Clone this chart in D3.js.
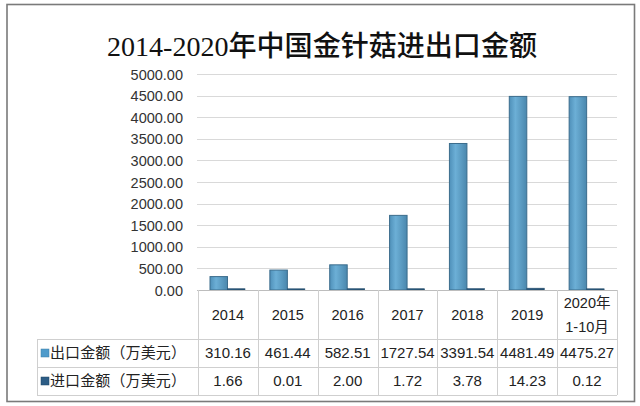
<!DOCTYPE html>
<html><head><meta charset="utf-8">
<script src="https://cdn.jsdelivr.net/npm/d3@7"></script>
<style>body{margin:0;background:#fff}svg{display:block}</style>
</head><body>
<script>
const categories = ["2014","2015","2016","2017","2018","2019","2020年\n1-10月"];
const exportValues = [310.16,461.44,582.51,1727.54,3391.54,4481.49,4475.27];
const importValues = [1.66,0.01,2.00,1.72,3.78,14.23,0.12];
const seriesNames = ["出口金额（万美元）","进口金额（万美元）"];
const yTicks = [0,500,1000,1500,2000,2500,3000,3500,4000,4500,5000];
const title = "2014-2020年中国金针菇进出口金额";

const W=640,H=406;
const svg=d3.select("body").append("svg").attr("width",W).attr("height",H);
const defs=svg.append("defs");
const g1=defs.append("linearGradient").attr("id","gExp").attr("x1","0").attr("x2","1").attr("y1","0").attr("y2","0");
g1.append("stop").attr("offset","0").attr("stop-color","#4f90b9");
g1.append("stop").attr("offset","0.35").attr("stop-color","#6cafd6");
g1.append("stop").attr("offset","1").attr("stop-color","#4a87ad");
const g2=defs.append("linearGradient").attr("id","gImp").attr("x1","0").attr("x2","1");
g2.append("stop").attr("offset","0").attr("stop-color","#2c5d83");
g2.append("stop").attr("offset","1").attr("stop-color","#214a6a");

svg.append("rect").attr("x",0).attr("y",0).attr("width",W).attr("height",H).attr("fill","#fff");
svg.append("rect").attr("x",7).attr("y",4.5).attr("width",627.5).attr("height",397).attr("fill","#fff").attr("stroke","#7a7a7a").attr("stroke-width",1.6);

svg.append("text").attr("x",322).attr("y",56).attr("text-anchor","middle")
  .attr("font-family","'Liberation Serif','Noto Sans CJK SC',serif").attr("font-size",28).attr("font-weight","500")
  .attr("fill","#111").attr("textLength",430).attr("lengthAdjust","spacingAndGlyphs").text(title);

const x=d3.scaleBand().domain(categories).range([198,617]);
const y=d3.scaleLinear().domain([0,5000]).range([290,74]);
const xs=d3.scaleBand().domain(["e","i"]).range([12,47]);

// gridlines
svg.append("g").selectAll("line").data(yTicks.filter(d=>d>0)).join("line")
  .attr("x1",197).attr("x2",617).attr("y1",d=>Math.round(y(d))+0.5).attr("y2",d=>Math.round(y(d))+0.5)
  .attr("stroke","#d9d9d9").attr("stroke-width",1);

// y axis labels
const yAxis=d3.axisLeft(y).tickValues(yTicks).tickFormat(d3.format(".2f")).tickSize(0).tickPadding(0);
const ya=svg.append("g").attr("transform","translate(183,0)").call(yAxis);
ya.select(".domain").remove();
ya.selectAll("text").attr("font-family","'Liberation Sans',Arial,sans-serif").attr("font-size",14.5).attr("fill","#333").attr("dy","0.35em");

// bars
const bars=svg.append("g");
bars.selectAll(".exp").data(categories).join("rect")
  .attr("x",(d)=>x(d)+xs("e")).attr("width",xs.bandwidth())
  .attr("y",(d,i)=>y(exportValues[i])).attr("height",(d,i)=>y(0)-y(exportValues[i]))
  .attr("fill","url(#gExp)").attr("stroke","#3b6c8c").attr("stroke-width",1);
bars.selectAll(".imp").data(categories).join("rect")
  .attr("x",(d)=>x(d)+xs("i")).attr("width",xs.bandwidth())
  .attr("y",(d,i)=>y(importValues[i])-1.2).attr("height",(d,i)=>y(0)-y(importValues[i])+1.2)
  .attr("fill","url(#gImp)").attr("stroke","#2a5373").attr("stroke-width",0.6);

// table
const tbl=svg.append("g");
const rowY=[290,339,367,395];
const lc="#cfcfcf";
tbl.append("line").attr("x1",197).attr("x2",617).attr("y1",290.5).attr("y2",290.5).attr("stroke","#bdbdbd");
[339,367,395].forEach(v=>tbl.append("line").attr("x1",37).attr("x2",617).attr("y1",v+0.5).attr("y2",v+0.5).attr("stroke",lc));
categories.forEach(c=>tbl.append("line").attr("x1",Math.round(x(c))+0.5).attr("x2",Math.round(x(c))+0.5).attr("y1",290).attr("y2",395).attr("stroke",lc));
tbl.append("line").attr("x1",617.5).attr("x2",617.5).attr("y1",290).attr("y2",395).attr("stroke",lc);
tbl.append("line").attr("x1",37.5).attr("x2",37.5).attr("y1",339).attr("y2",395).attr("stroke",lc);

const tf="'Liberation Sans',Arial,'Noto Sans CJK SC',sans-serif";
// header
categories.forEach(c=>{
  const lines=c.split("\n");
  const cx=x(c)+x.bandwidth()/2;
  if(lines.length===1){
    tbl.append("text").attr("x",cx).attr("y",315).attr("dy","0.35em").attr("text-anchor","middle")
      .attr("font-family",tf).attr("font-size",14.5).attr("fill","#222").text(lines[0]);
  } else {
    lines.forEach((l,k)=>tbl.append("text").attr("x",cx).attr("y",303+k*24).attr("dy","0.35em").attr("text-anchor","middle")
      .attr("font-family",tf).attr("font-size",14.5).attr("fill","#222").text(l));
  }
});
// data rows
[exportValues,importValues].forEach((vals,r)=>{
  const cy=(rowY[r+1]+rowY[r+2])/2;
  categories.forEach((c,i)=>{
    tbl.append("text").attr("x",x(c)+x.bandwidth()/2).attr("y",cy).attr("dy","0.35em").attr("text-anchor","middle")
      .attr("font-family",tf).attr("font-size",15).attr("fill","#222").text(d3.format(".2f")(vals[i]));
  });
  tbl.append("rect").attr("x",41).attr("y",cy-4).attr("width",8).attr("height",8)
    .attr("fill",r===0?"#4f9bcb":"#2d5d86").attr("stroke",r===0?"#3d7fa8":"#1f4566").attr("stroke-width",0.5);
  tbl.append("text").attr("x",50).attr("y",cy).attr("dy","0.35em")
    .attr("font-family","'Noto Sans CJK SC',sans-serif").attr("font-size",15).attr("fill","#222")
    .attr("textLength",136).attr("lengthAdjust","spacing").text(seriesNames[r]);
});
</script>
</body></html>
